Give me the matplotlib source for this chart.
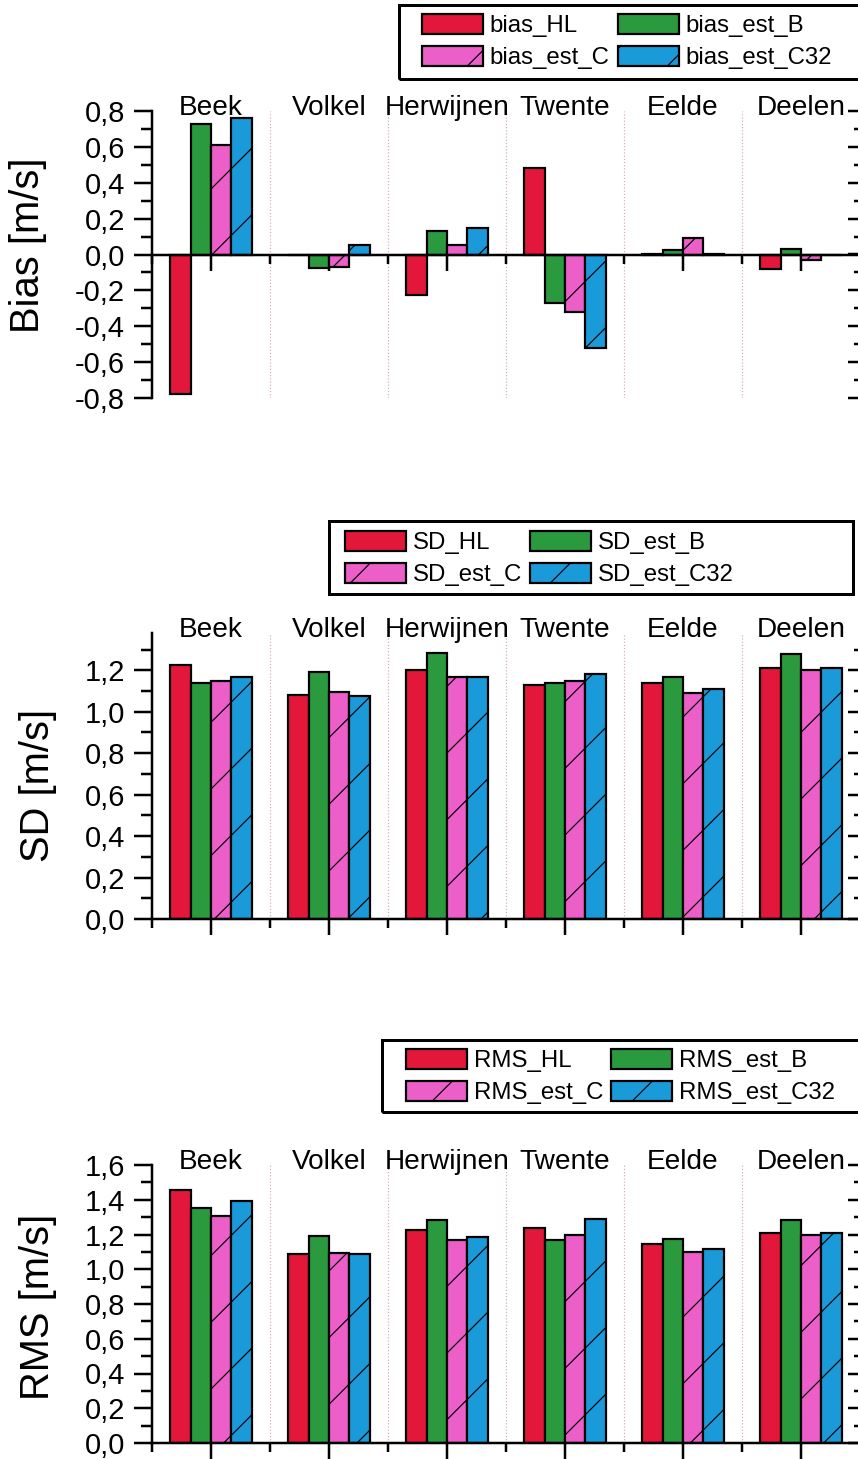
import numpy as np
import matplotlib
matplotlib.use('Agg')
import matplotlib.pyplot as plt
from matplotlib.patches import Rectangle
from matplotlib.ticker import MultipleLocator, FixedLocator

# stations and values (m/s)
stations = ['Beek', 'Volkel', 'Herwijnen', 'Twente', 'Eelde', 'Deelen']

bias_HL = [-0.78, 0.0, -0.225, 0.485, 0.005, -0.08]
bias_est_B = [0.73, -0.075, 0.13, -0.27, 0.025, 0.03]
bias_est_C = [0.61, -0.07, 0.055, -0.32, 0.09, -0.03]
bias_est_C32 = [0.76, 0.055, 0.145, -0.52, 0.005, 0.0]

SD_HL = [1.225, 1.08, 1.20, 1.13, 1.14, 1.21]
SD_est_B = [1.14, 1.19, 1.285, 1.14, 1.17, 1.28]
SD_est_C = [1.15, 1.095, 1.17, 1.15, 1.09, 1.20]
SD_est_C32 = [1.17, 1.075, 1.17, 1.18, 1.11, 1.21]

RMS_HL = [1.455, 1.085, 1.225, 1.235, 1.145, 1.21]
RMS_est_B = [1.355, 1.19, 1.285, 1.17, 1.175, 1.285]
RMS_est_C = [1.305, 1.095, 1.17, 1.20, 1.10, 1.20]
RMS_est_C32 = [1.39, 1.085, 1.185, 1.29, 1.115, 1.21]

colors = ['#e3173a', '#2b9a3e', '#ec5fc8', '#1a9ad8']
hatches = [None, None, '//', '//']

# high dpi so the hatch comes out as sparse as in the original
DPI = 400
W, H = 858, 1459
P = 72 / DPI   # points per pixel

plt.rcParams['font.family'] = ['Liberation Sans', 'DejaVu Sans']
plt.rcParams['hatch.linewidth'] = 1.2 * P

fig = plt.figure(figsize=(W / DPI, H / DPI), dpi=DPI)

panels = [
    # axes box px, ylim, ylabel, ylabel centre px, legend content px, legend frame px, names, series
    ((152, 111, 860, 398), (-0.8, 0.8), 'Bias [m/s]', (28, 245), (422, 14),
     (399, 5, 866, 79),
     ['bias_HL', 'bias_est_B', 'bias_est_C', 'bias_est_C32'],
     [bias_HL, bias_est_B, bias_est_C, bias_est_C32]),
    ((152, 633, 860, 919), (0, 1.38), 'SD [m/s]', (38, 785), (345, 531),
     (329, 521, 853, 594),
     ['SD_HL', 'SD_est_B', 'SD_est_C', 'SD_est_C32'],
     [SD_HL, SD_est_B, SD_est_C, SD_est_C32]),
    ((152, 1165, 860, 1443), (0, 1.6), 'RMS [m/s]', (38, 1307), (406, 1049),
     (382, 1040, 866, 1112),
     ['RMS_HL', 'RMS_est_B', 'RMS_est_C', 'RMS_est_C32'],
     [RMS_HL, RMS_est_B, RMS_est_C, RMS_est_C32]),
]

x = np.arange(len(stations))
w = 0.173
offsets = [-1.5, -0.5, 0.5, 1.5]

for (l, t, r, b), ylim, ylab, (lx, ly), (gx, gy), (fl, ft, fr, fb), names, series in panels:
    ax = fig.add_axes([l / W, 1 - b / H, (r - l) / W, (b - t) / H])
    handles = []
    for k in range(4):
        h = ax.bar(x + offsets[k] * w, series[k], width=w, color=colors[k],
                   edgecolor='black', linewidth=2.2 * P, hatch=hatches[k],
                   label=names[k], zorder=3)
        handles.append(h)

    for s in x[:-1] + 0.5:
        ax.axvline(s, color='#d9a6cc', lw=1.2 * P, ls=':', zorder=1)

    ax.set_xlim(-0.5, 5.5)
    ax.set_ylim(*ylim)
    ax.spines['top'].set_visible(False)
    ax.spines['right'].set_visible(False)
    ax.spines['bottom'].set_position(('data', 0))
    for sp in ['left', 'bottom']:
        ax.spines[sp].set_linewidth(2.5 * P)
        ax.spines[sp].set_zorder(4)

    ax.xaxis.set_major_locator(FixedLocator(x))
    ax.xaxis.set_minor_locator(FixedLocator(np.arange(-0.5, 6, 1.0)))
    ax.set_xticklabels([])
    ax.tick_params(axis='x', which='major', direction='out', length=16 * P, width=2.5 * P)
    ax.tick_params(axis='x', which='minor', direction='out', length=9 * P, width=2.5 * P)

    ax.yaxis.set_major_locator(MultipleLocator(0.2))
    ax.yaxis.set_minor_locator(MultipleLocator(0.1))
    ax.yaxis.set_major_formatter(lambda v, pos: f'{v:.1f}'.replace('.', ',').replace('-0,0', '0,0'))
    ax.tick_params(axis='y', which='major', direction='out', length=18 * P, width=2.5 * P,
                   labelsize=29 * P, pad=9 * P)
    ax.tick_params(axis='y', which='minor', direction='out', length=11 * P, width=2.5 * P)

    # inward ticks on the right-hand side
    axr = ax.twinx()
    axr.set_ylim(*ylim)
    for sp in ['top', 'bottom', 'left']:
        axr.spines[sp].set_visible(False)
    axr.spines['right'].set_linewidth(2.5 * P)
    axr.yaxis.set_major_locator(MultipleLocator(0.2))
    axr.yaxis.set_minor_locator(MultipleLocator(0.1))
    axr.tick_params(axis='y', which='major', direction='in', length=12 * P, width=2.5 * P,
                    labelright=False)
    axr.tick_params(axis='y', which='minor', direction='in', length=6 * P, width=2.5 * P)

    for i, name in enumerate(stations):
        ax.annotate(name, xy=(i, 1), xycoords=('data', 'axes fraction'),
                    xytext=(0, -4 * P), textcoords='offset points',
                    ha='center', va='baseline', fontsize=28 * P)

    fig.text(lx / W, 1 - ly / H, ylab, rotation=90, ha='center', va='center',
             fontsize=40 * P)

    order = [0, 2, 1, 3]
    fig.legend([handles[k] for k in order], [names[k] for k in order],
               loc='upper left', bbox_to_anchor=(gx / W, 1 - gy / H),
               ncols=2, fontsize=24 * P, handlelength=61 / 24,
               handleheight=0.9, handletextpad=0.28, columnspacing=0.35,
               labelspacing=0.36, borderpad=0, borderaxespad=0, frameon=False)
    # legend frame, wider than its content as in the original
    fig.add_artist(Rectangle((fl / W, 1 - fb / H), (fr - fl) / W, (fb - ft) / H,
                             transform=fig.transFigure, fill=False,
                             edgecolor='black', lw=3 * P))

fig.savefig('out.png', dpi=DPI)
